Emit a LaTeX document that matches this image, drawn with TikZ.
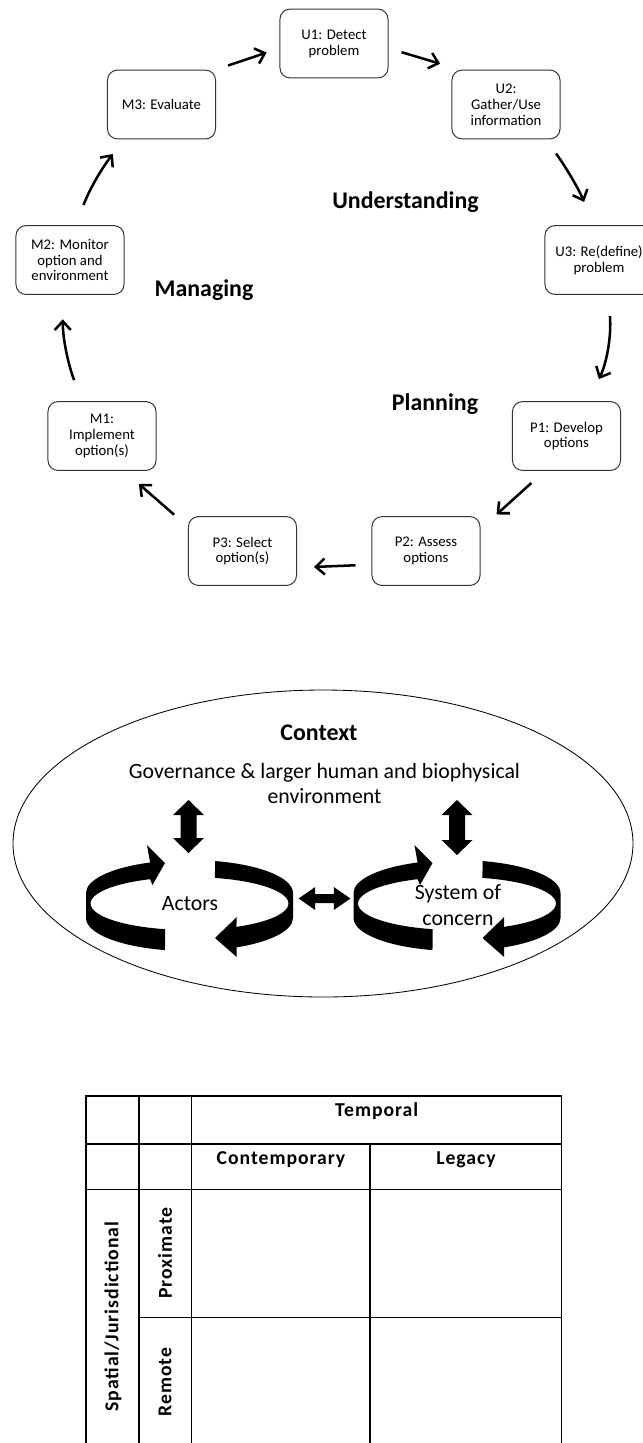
\documentclass[tikz,border=0pt]{standalone}
\usepackage{fontspec}
\setmainfont{Carlito}
\usepackage{tikz}
\usetikzlibrary{arrows.meta}

\begin{document}
\begin{tikzpicture}[x=0.025cm,y=0.025cm,>={Straight Barb[length=2.2mm,width=4mm]},
  every node/.style={font=\fontsize{10.5}{11.3}\selectfont,text=black},
  stage/.style={draw=black!80,line width=.7pt,rounded corners=2.5mm,minimum width=2.7cm,minimum height=1.72cm,align=center,inner sep=1pt},
  phase/.style={font=\fontsize{17}{20}\selectfont\bfseries,anchor=base},
  flow/.style={->,line width=1.8pt},
  big/.style={font=\fontsize{15.5}{18.5}\selectfont},
  head/.style={font=\fontsize{14}{17}\selectfont\bfseries\addfontfeatures{LetterSpace=5},anchor=base},
  grid/.style={line width=.9pt}]
\useasboundingbox (0,0) rectangle (643,-1443);
\node[stage] (U1) at (334,-43.5) {U1: Detect\\problem};
\node[stage] (U2) at (506,-104.5) {U2:\\Gather/Use\\information};
\node[stage] (U3) at (599,-260) {U3: Re(define)\\problem};
\node[stage] (P1) at (566.5,-436) {P1: Develop\\options};
\node[stage] (P2) at (426,-551) {P2: Assess\\options};
\node[stage] (P3) at (242.5,-551) {P3: Select\\option(s)};
\node[stage] (M1) at (102,-436) {M1:\\Implement\\option(s)};
\node[stage] (M2) at (70,-260) {M2: Monitor\\option and\\environment};
\node[stage] (M3) at (161.5,-104.5) {M3: Evaluate};
\node[phase] (und) at (405.5,-208.3) {Understanding};
\node[phase] (man) at (204,-296.7) {Managing};
\node[phase] (pla) at (435,-410) {Planning};
\draw[flow,shorten <=3.2mm,shorten >=3.4mm] (M3.north east) -- (U1.185);
\draw[flow,shorten <=3.4mm,shorten >=5.1mm] (U1.-5) -- (U2.143);
\draw[flow,shorten <=4.3mm,shorten >=6.3mm] (U2.-41) to[bend left=6] (U3.98);
\draw[flow,shorten <=5.3mm,shorten >=6.1mm] (U3.-75) to[bend left=15] (P1.58);
\draw[flow,shorten <=4.5mm,shorten >=5.4mm] (P1.-122) -- (P2.22);
\draw[flow,shorten <=4mm,shorten >=4.25mm] (P2.194) -- (P3.-17);
\draw[flow,shorten <=4.6mm,shorten >=5mm] (P3.156) -- (M1.-58);
\draw[flow,shorten <=5.6mm,shorten >=6.1mm] (M1.120) to[bend left=10] (M2.-102);
\draw[flow,shorten <=5.4mm,shorten >=4.6mm] (M2.81) to[bend left=8] (M3.-137);

\draw[line width=.6pt] (323,-843.5) ellipse [x radius=310,y radius=153.5];
\node[font=\fontsize{17}{20}\selectfont\bfseries,anchor=base] (ctx) at (319,-740) {Context};
\node[big,anchor=base] (gov) at (324.5,-778) {Governance \& larger human and biophysical};
\node[big,anchor=base] (env) at (324.5,-803) {environment};
\node[big,anchor=base] (act) at (190,-910) {Actors};
\node[big,align=center] (sys) at (458,-905) {System of\\concern};
\fill (188.5,-800) -- (204,-815) -- (196.5,-815) -- (196.5,-838) -- (204,-838) -- (188.5,-853) -- (173,-838) -- (180.5,-838) -- (180.5,-815) -- (173,-815) -- cycle;
\fill (457,-800) -- (472.5,-815) -- (465,-815) -- (465,-840) -- (472.5,-840) -- (457,-855) -- (441.5,-840) -- (449,-840) -- (449,-815) -- (441.5,-815) -- cycle;
\fill (298.6,-898.5) -- (315.2,-887) -- (315.2,-894) -- (333.8,-894) -- (333.8,-887) -- (350.4,-898.5) -- (333.8,-910) -- (333.8,-903) -- (315.2,-903) -- (315.2,-910) -- cycle;
\begin{scope}[shift={(189.5,-903)}]
\fill ([shift={(0,-15)}]256.3:103.5 and 33) arc[start angle=256.3,end angle=180,x radius=103.5,y radius=33]
  -- (-103.5,10) arc[start angle=180,end angle=112.4,x radius=103.5,y radius=33]
  -- (-42.5,58) -- (-24.5,40) -- (-37,18)
  -- ([shift={(0,-0.5)}]113.5:99 and 26.5) arc[start angle=113.5,end angle=255.7,x radius=99,y radius=26.5] -- cycle;
\fill ([shift={(0,10)}]75.7:103.5 and 33) arc[start angle=75.7,end angle=0,x radius=103.5,y radius=33]
  -- (103.5,-15) arc[start angle=0,end angle=-63,x radius=103.5,y radius=33]
  -- (47.2,-54) -- (25.5,-35) -- (47.2,-14)
  -- ([shift={(0,-0.5)}]-61.7:99 and 26.5) arc[start angle=-61.7,end angle=75.1,x radius=99,y radius=26.5] -- cycle;
\end{scope}
\begin{scope}[shift={(457,-903)}]
\fill ([shift={(0,-15)}]256.3:103.5 and 33) arc[start angle=256.3,end angle=180,x radius=103.5,y radius=33]
  -- (-103.5,10) arc[start angle=180,end angle=112.4,x radius=103.5,y radius=33]
  -- (-42.5,58) -- (-24.5,40) -- (-37,18)
  -- ([shift={(0,-0.5)}]113.5:99 and 26.5) arc[start angle=113.5,end angle=255.7,x radius=99,y radius=26.5] -- cycle;
\fill ([shift={(0,10)}]75.7:103.5 and 33) arc[start angle=75.7,end angle=0,x radius=103.5,y radius=33]
  -- (103.5,-15) arc[start angle=0,end angle=-63,x radius=103.5,y radius=33]
  -- (47.2,-54) -- (25.5,-35) -- (47.2,-14)
  -- ([shift={(0,-0.5)}]-61.7:99 and 26.5) arc[start angle=-61.7,end angle=75.1,x radius=99,y radius=26.5] -- cycle;
\end{scope}

\draw[grid] (86,-1096) rectangle (561.7,-1446);
\draw[grid] (139,-1096) -- (139,-1446);
\draw[grid] (191.7,-1096) -- (191.7,-1446);
\draw[grid] (86,-1144) -- (561.7,-1144);
\draw[grid] (86,-1189.3) -- (561.7,-1189.3);
\draw[grid] (139,-1317.7) -- (561.7,-1317.7);
\draw[grid] (370,-1144) -- (370,-1446);
\node[head] (tmp) at (376.7,-1116) {Temporal};
\node[head] (con) at (281,-1164.5) {Contemporary};
\node[head] (leg) at (466,-1164.5) {Legacy};
\node[head,anchor=center,rotate=90] (spa) at (113,-1316.7) {Spatial/Jurisdictional};
\node[head,anchor=center,rotate=90] (pro) at (165,-1253) {Proximate};
\node[head,anchor=center,rotate=90] (rem) at (165,-1382) {Remote};
\end{tikzpicture}
\end{document}
